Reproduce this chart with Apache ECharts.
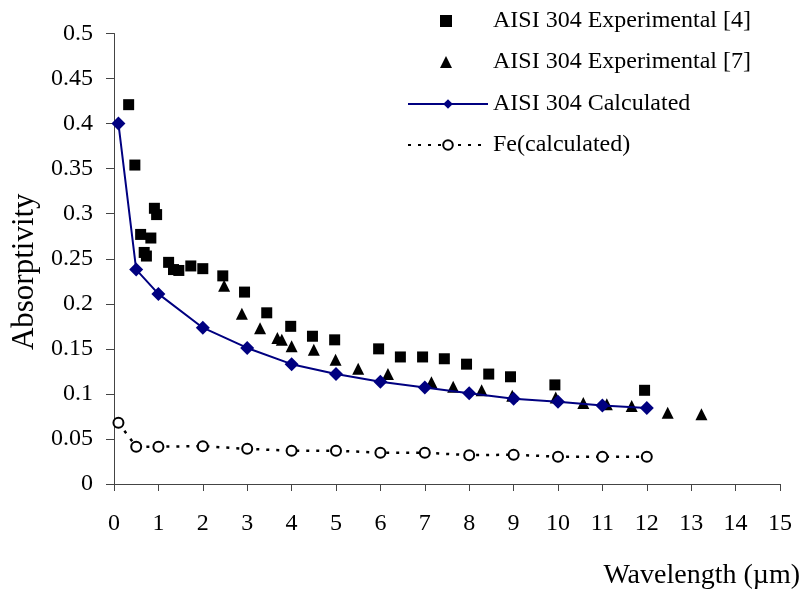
<!DOCTYPE html>
<html>
<head>
<meta charset="utf-8">
<script src="https://cdn.jsdelivr.net/npm/echarts@6/dist/echarts.min.js"></script>
<style>html,body{margin:0;padding:0;background:#fff}#c{width:804px;height:592px}</style>
</head>
<body>
<div id="c"></div>
<script>
// Data (wavelength µm, absorptivity)
var exp4 = [[0.33,0.421],[0.47,0.354],[0.6,0.277],[0.68,0.257],[0.73,0.253],[0.83,0.273],[0.91,0.306],[0.96,0.299],[1.23,0.246],[1.34,0.238],[1.46,0.237],[1.73,0.242],[2.0,0.239],[2.45,0.231],[2.94,0.213],[3.44,0.19],[3.98,0.175],[4.47,0.164],[4.97,0.16],[5.96,0.15],[6.45,0.141],[6.95,0.141],[7.44,0.139],[7.94,0.133],[8.44,0.122],[8.93,0.119],[9.93,0.11],[11.95,0.104]];
var exp7 = [[2.48,0.22],[2.88,0.189],[3.29,0.173],[3.68,0.162],[3.78,0.16],[4.0,0.153],[4.5,0.149],[4.99,0.138],[5.5,0.128],[6.17,0.122],[7.15,0.113],[7.64,0.108],[8.28,0.104],[8.97,0.098],[9.95,0.096],[10.57,0.09],[11.1,0.0885],[11.66,0.0866],[12.47,0.079],[13.23,0.0774]];
var calc = [[0.1,0.4],[0.5,0.238],[1,0.211],[2,0.1735],[3,0.151],[4,0.133],[5,0.122],[6,0.1135],[7,0.107],[8,0.1006],[9,0.0947],[10,0.0914],[11,0.087],[12,0.0843]];
var fe = [[0.1,0.068],[0.5,0.0414],[1,0.0414],[2,0.042],[3,0.039],[4,0.037],[5,0.037],[6,0.0347],[7,0.0347],[8,0.032],[9,0.0325],[10,0.0303],[11,0.0303],[12,0.0303]];
var seriesNames = ['AISI 304 Experimental [4]','AISI 304 Experimental [7]','AISI 304 Calculated','Fe(calculated)'];
var xTitle = 'Wavelength (\u00b5m)';
var yTitle = 'Absorptivity';

var FONT = '"Liberation Serif","Times New Roman",serif';
var legendText = {fontFamily:FONT, fontSize:24, color:'#000'};
var chart = echarts.init(document.getElementById('c'), null, {renderer:'canvas'});
chart.setOption({
  backgroundColor:'#fff',
  animation:false,
  textStyle:{fontFamily:FONT},
  grid:{left:114, right:24, top:33.5, bottom:108, containLabel:false},
  legend:[
    {
      orient:'vertical', left:435, top:4,
      itemWidth:12, itemHeight:12, itemGap:17,
      textStyle:Object.assign({padding:[0,0,0,36]}, legendText),
      data:[seriesNames[0], seriesNames[1]]
    },
    {
      orient:'vertical', left:402, top:87,
      itemWidth:80, itemHeight:12, itemGap:17,
      textStyle:legendText,
      data:[seriesNames[2], seriesNames[3]]
    }
  ],
  xAxis:{
    type:'value', min:0, max:15, interval:1,
    name:xTitle, nameLocation:'end', nameGap:20,
    nameTextStyle:{fontFamily:FONT, fontSize:28, color:'#000', align:'right', verticalAlign:'top', padding:[78,0,0,0]},
    axisLine:{show:true, onZero:false, lineStyle:{color:'#444', width:1}},
    axisTick:{show:true, length:7, lineStyle:{color:'#444'}},
    axisLabel:{fontFamily:FONT, fontSize:24, color:'#000', margin:28},
    splitLine:{show:false}
  },
  yAxis:{
    type:'value', min:0, max:0.5, interval:0.05,
    name:yTitle, nameLocation:'middle', nameGap:74, nameRotate:90,
    nameTextStyle:{fontFamily:FONT, fontSize:31, color:'#000', padding:[0,26,0,0]},
    axisLine:{show:true, lineStyle:{color:'#444', width:1}},
    axisTick:{show:true, length:8, lineStyle:{color:'#444'}},
    axisLabel:{fontFamily:FONT, fontSize:24, color:'#000', margin:21},
    splitLine:{show:false}
  },
  series:[
    {name:seriesNames[0], type:'scatter', data:exp4, symbol:'rect', symbolSize:11,
     itemStyle:{color:'#000', opacity:1}},
    {name:seriesNames[1], type:'scatter', data:exp7, symbol:'triangle', symbolSize:12,
     itemStyle:{color:'#000', opacity:1}},
    {name:seriesNames[2], type:'line', data:calc, symbol:'diamond', symbolSize:14,
     showSymbol:true, lineStyle:{color:'#000080', width:2}, itemStyle:{color:'#000080'}},
    {name:seriesNames[3], type:'line', data:fe, symbol:'circle', symbolSize:10,
     showSymbol:true, lineStyle:{color:'#000', width:2.5, type:[3,7]},
     itemStyle:{color:'#fff', borderColor:'#000', borderWidth:2}}
  ]
});
</script>
</body>
</html>
